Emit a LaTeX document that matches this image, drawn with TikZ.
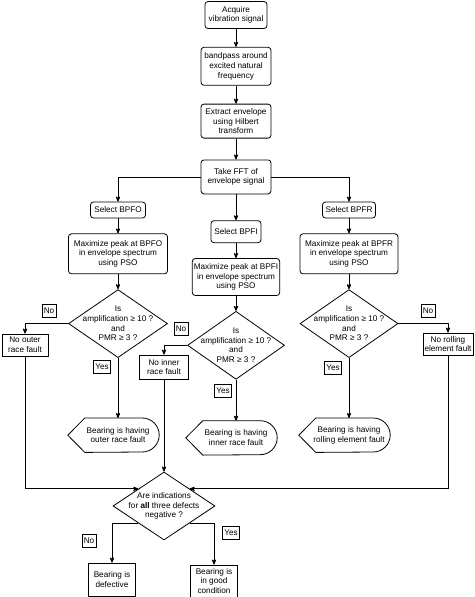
\documentclass[tikz,border=0pt]{standalone}
\usepackage{fontspec}
\setmainfont{Liberation Sans}
\usetikzlibrary{arrows,positioning,shapes.geometric}
\tikzset{
    %Define standard arrow tip
    >=stealth',
    %Define style for rounded process boxes
    procbox/.style={
           rectangle,
           rounded corners=3pt,
           draw=black,
           line width=0.8pt,
           inner sep=1.5pt,
           align=center},
    %Define style for decision diamonds
    decision/.style={
           diamond,
           aspect=1.45,
           draw=black,
           line width=0.8pt,
           inner sep=-7pt,
           minimum width=99pt,
           minimum height=68pt,
           align=center},
    %Define style for plain result boxes
    resultbox/.style={
           rectangle,
           draw=black,
           line width=0.8pt,
           inner sep=1.5pt,
           align=center},
    %Define style for yes/no tags
    yntag/.style={
           rectangle,
           draw=black,
           line width=0.8pt,
           inner sep=1.8pt,
           minimum height=13pt},
    %Define style for outcome texts (outline drawn later)
    outcome/.style={
           inner sep=0pt,
           minimum width=82pt,
           minimum height=34pt,
           align=center},
    % Define arrow style
    flowline/.style={
           ->,
           line width=0.8pt},
}

\begin{document}
\begin{tikzpicture}[x=1pt,y=1pt,node distance=15pt]
  \fontsize{8.2}{9.7}\selectfont
  \useasboundingbox (0,0) rectangle (474,-597);
  % main chain
  \node[procbox,minimum width=62pt,minimum height=27pt] (acquire) at (236,-15) {Acquire\\vibration signal};
  \node[procbox,minimum width=70pt,minimum height=38pt,below=18pt of acquire] (bandpass) {bandpass around\\excited natural\\frequency};
  \node[procbox,minimum width=70pt,minimum height=34pt,below=18pt of bandpass] (extract) {Extract envelope\\using Hilbert\\transform};
  \node[procbox,minimum width=70pt,minimum height=34pt,below=21pt of extract] (fft) {Take FFT of\\envelope signal};
  % inner race column
  \node[procbox,minimum width=50pt,minimum height=22pt,below=26pt of fft] (selbpfi) {Select BPFI};
  \node[procbox,minimum width=87pt,minimum height=37pt,below=of selbpfi] (maxbpfi) {Maximize peak at BPFI\\in envelope spectrum\\using PSO};
  \node[decision,minimum width=97pt,below=of maxbpfi] (askbpfi) {Is\\amplification ≥ 10 ?\\and\\PMR ≥ 3 ?};
  \node[outcome,below=41pt of askbpfi] (innerfault) {Bearing is having\\inner race fault};
  % outer race column
  \node[procbox,minimum width=55pt,minimum height=16pt] (selbpfo) at (118,-210) {Select BPFO};
  \node[procbox,minimum width=99pt,minimum height=40pt,below=of selbpfo] (maxbpfo) {Maximize peak at BPFO\\in envelope spectrum\\using PSO};
  \node[decision,below=of maxbpfo] (askbpfo) {Is\\amplification ≥ 10 ?\\and\\PMR ≥ 3 ?};
  \node[outcome,below=60pt of askbpfo] (outerfault) {Bearing is having\\outer race fault};
  % rolling element column
  \node[procbox,minimum width=53pt,minimum height=16pt] (selbpfr) at (349,-210) {Select BPFR};
  \node[procbox,minimum width=98pt,minimum height=40pt,below=of selbpfr] (maxbpfr) {Maximize peak at BPFR\\in envelope spectrum\\using PSO};
  \node[decision,minimum width=98pt,below=of maxbpfr] (askbpfr) {Is\\amplification ≥ 10 ?\\and\\PMR ≥ 3 ?};
  \node[outcome,below=60pt of askbpfr] (rollfault) {Bearing is having\\rolling element fault};
  % no fault boxes
  \node[resultbox,minimum width=46pt,minimum height=22pt] (noouter) at (25,-345) {No outer\\race fault};
  \node[resultbox,minimum width=49pt,minimum height=24pt] (noinner) at (164,-367) {No inner\\race fault};
  \node[resultbox,minimum width=50pt,minimum height=22pt] (norolling) at (448,-344) {No rolling\\element fault};
  % final decision
  \node[decision,aspect=1.5,minimum width=102pt] (alldefects) at (164,-506) {Are indications\\for \textbf{all} three defects\\negative ?};
  \node[resultbox,minimum width=47pt,minimum height=33pt] (defective) at (112,-579.5) {Bearing is\\defective};
  \node[resultbox,inner sep=1pt,minimum width=47pt,minimum height=32pt] (goodcond) at (214,-581) {Bearing is\\in good\\condition};
  % yes/no tags
  \node[yntag] (nobpfo) at (49,-311) {No};
  \node[yntag] (yesbpfo) at (102,-367) {Yes};
  \node[yntag] (nobpfi) at (181,-329) {No};
  \node[yntag] (yesbpfi) at (223,-391) {Yes};
  \node[yntag] (nobpfr) at (428,-311) {No};
  \node[yntag] (yesbpfr) at (333,-368) {Yes};
  \node[yntag] (noall) at (89,-541) {No};
  \node[yntag] (yesall) at (231,-533) {Yes};
  % outcome outlines
  \foreach \n in {outerfault,innerfault,rollfault}
    \draw[line width=0.8pt] ([xshift=-9pt]\n.west) -- ([xshift=8pt]\n.north west)
      -- ([xshift=-17pt]\n.north east) arc[start angle=90,end angle=-90,radius=17pt]
      -- ([xshift=8pt]\n.south west) -- cycle;
  % connectors
  \draw[flowline] (acquire) -- (bandpass);
  \draw[flowline] (bandpass) -- (extract);
  \draw[flowline] (extract) -- (fft);
  \draw[flowline] (fft) -- (selbpfi);
  \draw[flowline] (fft.west) -| (selbpfo);
  \draw[flowline] (fft.east) -| (selbpfr);
  \draw[flowline] (selbpfo) -- (maxbpfo);
  \draw[flowline] (maxbpfo) -- (askbpfo);
  \draw[flowline] (askbpfo) -- (outerfault);
  \draw[flowline] (selbpfi) -- (maxbpfi);
  \draw[flowline] (maxbpfi) -- (askbpfi);
  \draw[flowline] (askbpfi) -- (innerfault);
  \draw[flowline] (selbpfr) -- (maxbpfr);
  \draw[flowline] (maxbpfr) -- (askbpfr);
  \draw[flowline] (askbpfr) -- (rollfault);
  \draw[flowline] (askbpfo.west) -| (noouter);
  \draw[flowline] (askbpfi.west) -| (noinner);
  \draw[flowline] (askbpfr.east) -| (norolling);
  \draw[flowline] (noouter) |- (alldefects.north west);
  \draw[flowline] (noinner) -- (alldefects);
  \draw[flowline] (norolling) |- (alldefects.north east);
  \draw[flowline] (alldefects.south west) -| (defective);
  \draw[flowline] (alldefects.south east) -| (goodcond);
\end{tikzpicture}
\end{document}
